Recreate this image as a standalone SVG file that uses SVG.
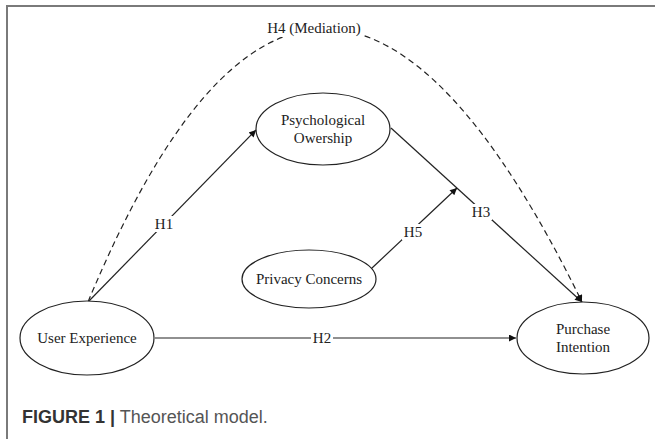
<svg xmlns="http://www.w3.org/2000/svg" width="655" height="439" viewBox="0 0 655 439">
<defs>
<style>
.node ellipse{fill:#fff;stroke:#222;stroke-width:1.2}
.nt{font-family:"Liberation Serif","Times New Roman",serif;font-size:15px;fill:#222;text-anchor:middle}
.edge{fill:none;stroke:#222;stroke-width:1.2}
.dash{stroke-dasharray:6 4}
.lbl{font-family:"Liberation Serif","Times New Roman",serif;font-size:15px;fill:#222;text-anchor:middle}
.bg{fill:#fff}
</style>
<marker id="ah" viewBox="0 0 10 10" refX="10" refY="5" markerWidth="10" markerHeight="7" markerUnits="userSpaceOnUse" orient="auto">
<path d="M0,0 L10,5 L0,10 z" fill="#111"/>
</marker>
</defs>
<rect x="0" y="0" width="655" height="439" fill="#fff"/>
<path d="M7,439 V6 H655" fill="none" stroke="#7a7a7a" stroke-width="2"/>

<g id="connectors">
<path class="edge dash" d="M88,302 Q315,-244 582,302" marker-end="url(#ah)"/>
<path class="edge" d="M88,302 L256,130" marker-end="url(#ah)"/>
<path class="edge" d="M155,338 L516,338" marker-end="url(#ah)"/>
<path class="edge" d="M391,128 L582,302" marker-end="url(#ah)"/>
<path class="edge" d="M372,268 L457,188" marker-end="url(#ah)"/>
<g id="labels">
<rect class="bg" x="266" y="19" width="96" height="18"/>
<text class="lbl" x="314" y="33">H4 (Mediation)</text>
<rect class="bg" x="153" y="216" width="22" height="16"/>
<text class="lbl" x="164" y="229">H1</text>
<rect class="bg" x="311" y="330" width="22" height="16"/>
<text class="lbl" x="322" y="343">H2</text>
<rect class="bg" x="470" y="204" width="22" height="16"/>
<text class="lbl" x="481" y="217">H3</text>
<rect class="bg" x="402" y="224" width="22" height="16"/>
<text class="lbl" x="413" y="237">H5</text>
</g>
</g>

<g id="psych" class="node">
<ellipse cx="323" cy="129" rx="67" ry="36"/>
<text class="nt" x="323" y="125">Psychological</text>
<text class="nt" x="323" y="143">Owership</text>
</g>
<g id="privacy" class="node">
<ellipse cx="309" cy="279" rx="67" ry="29"/>
<text class="nt" x="309" y="284">Privacy Concerns</text>
</g>
<g id="ux" class="node">
<ellipse cx="87" cy="338" rx="67" ry="37"/>
<text class="nt" x="87" y="343">User Experience</text>
</g>
<g id="pi" class="node">
<ellipse cx="583" cy="338" rx="66" ry="36"/>
<text class="nt" x="583" y="334">Purchase</text>
<text class="nt" x="583" y="352">Intention</text>
</g>

<text x="22" y="423" font-family="'Liberation Sans',Arial,sans-serif" font-size="18px"><tspan font-weight="bold" fill="#333">FIGURE 1 |</tspan><tspan fill="#555"> Theoretical model.</tspan></text>
</svg>
